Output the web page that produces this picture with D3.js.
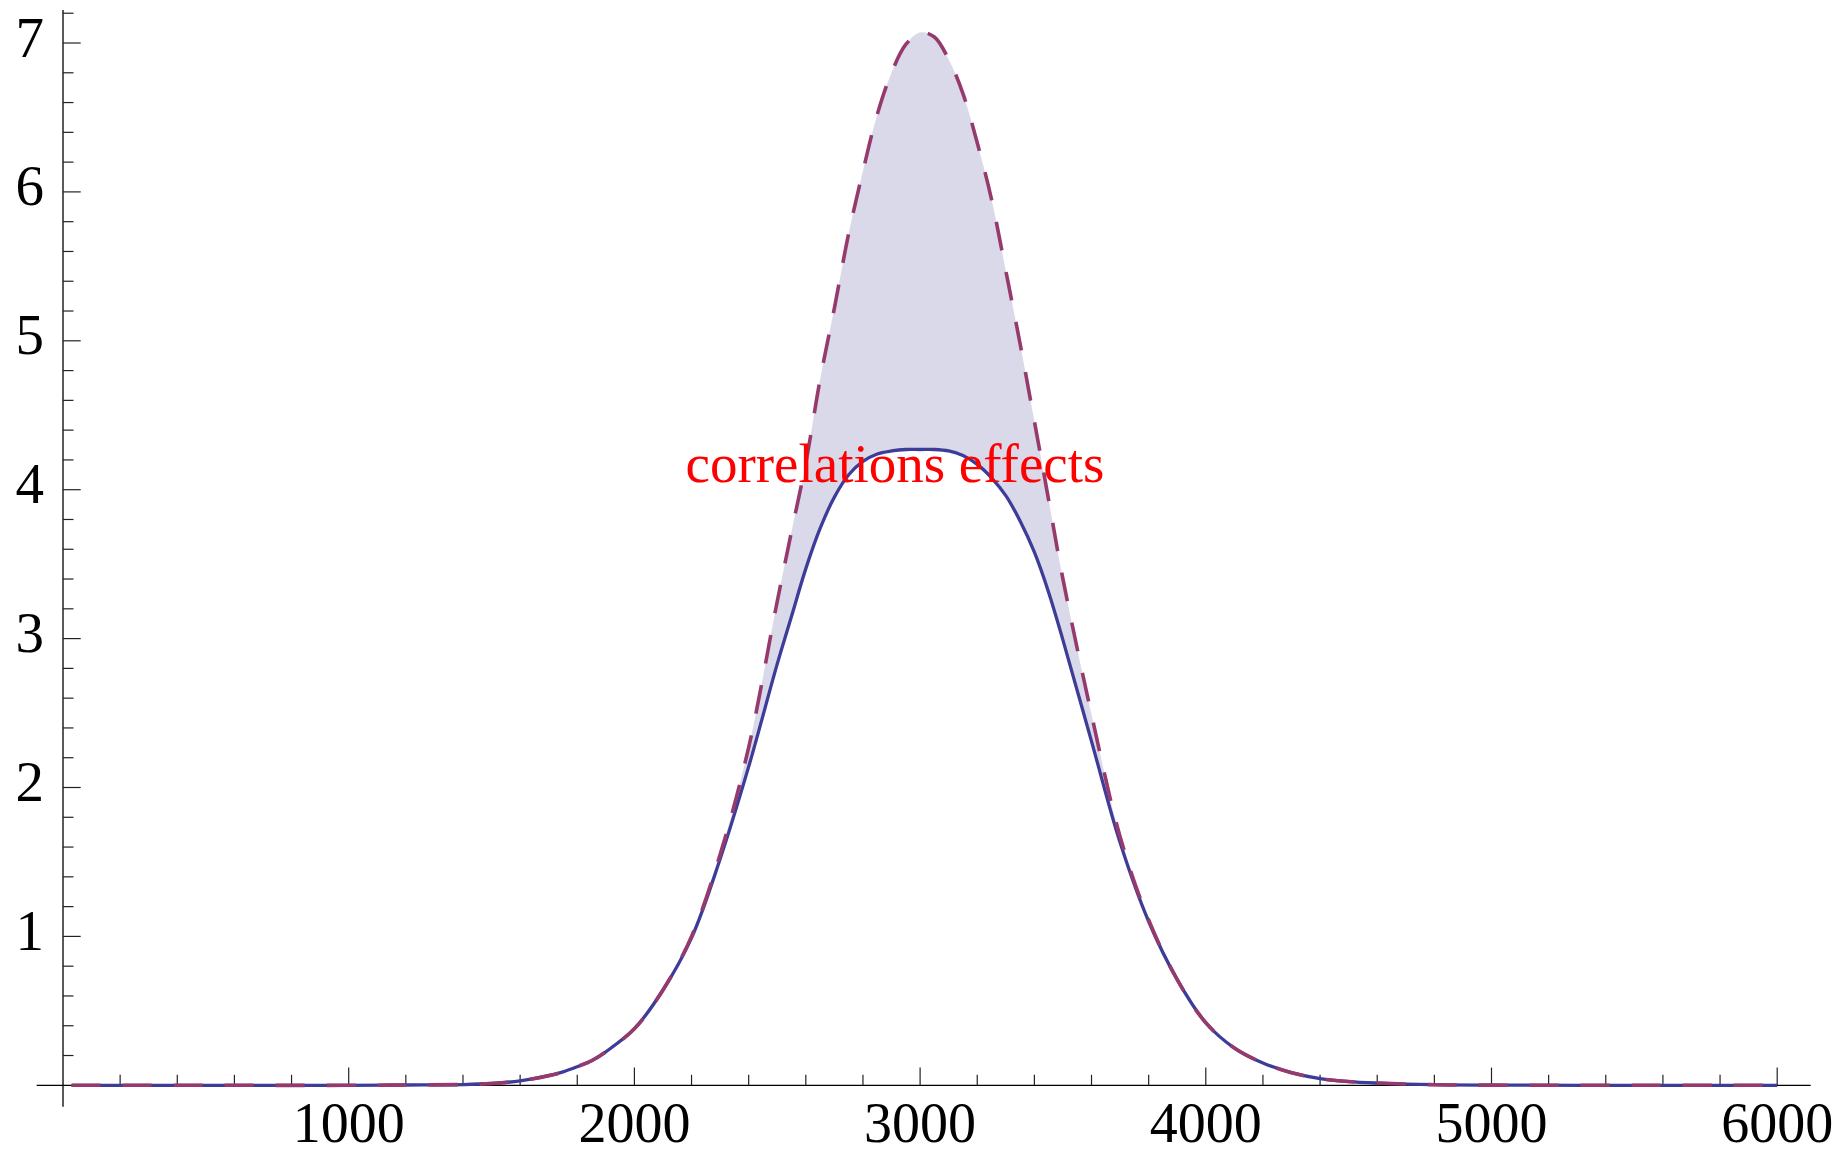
<!DOCTYPE html>
<html>
<head>
<meta charset="utf-8">
<script src="https://cdn.jsdelivr.net/npm/d3@7"></script>
<style>
  body { margin: 0; background: #fff; }
  svg { display: block; }
</style>
</head>
<body>
<div id="chart"></div>
<script>
// Values
const xs = [30, 500, 1000, 1200, 1400, 1500, 1600, 1700, 1750, 1800,
            1850, 1900, 2000, 2100, 2200, 2300, 2400, 2500, 2550, 2600, 2650,
            2700, 2750, 2800, 2850, 2900, 2950, 3000, 3050, 3100, 3150,
            3200, 3250, 3300, 3350, 3400, 3450, 3500, 3600, 3700, 3800, 3900,
            4000, 4100, 4200, 4300, 4400, 4500, 4600, 4800, 5000, 5500, 6000];

// dashed curve (no correlations)
const uncorrelated = [0, 0, 0, 0.002, 0.005, 0.012, 0.03, 0.065, 0.09, 0.125,
                      0.165, 0.225, 0.38, 0.64, 1.00, 1.55, 2.27, 3.25, 3.72, 4.18, 4.74,
                      5.22, 5.72, 6.14, 6.52, 6.80, 6.99, 7.07, 7.04, 6.89, 6.66,
                      6.33, 5.95, 5.47, 4.98, 4.46, 3.93, 3.40, 2.49, 1.67, 1.11, 0.71,
                      0.42, 0.25, 0.15, 0.085, 0.045, 0.025, 0.015, 0.004, 0.001, 0, 0];

// solid curve (with correlations)
const correlated = [0, 0, 0, 0.002, 0.005, 0.012, 0.03, 0.065, 0.09, 0.125,
                    0.165, 0.225, 0.38, 0.64, 0.99, 1.52, 2.14, 2.83, 3.15, 3.47, 3.74,
                    3.95, 4.10, 4.19, 4.24, 4.26, 4.27, 4.27, 4.27, 4.26, 4.23,
                    4.17, 4.08, 3.96, 3.79, 3.58, 3.31, 2.99, 2.31, 1.63, 1.10, 0.71,
                    0.42, 0.25, 0.15, 0.085, 0.045, 0.025, 0.015, 0.004, 0.001, 0, 0];

const xTickLabels = [1000, 2000, 3000, 4000, 5000, 6000];
const yTickLabels = [1, 2, 3, 4, 5, 6, 7];

const label = { text: "correlations effects", x: 2912, y: 4.05 };

const width = 1844, height = 1155;

const x = d3.scaleLinear().domain([0, 6000]).range([63, 1777.2]);
const y = d3.scaleLinear().domain([0, 7]).range([1085.3, 43]);

const svg = d3.select("#chart")
    .append("svg")
    .attr("width", width)
    .attr("height", height)
    .style("background", "#fff");

const rows = xs.map((d, i) => ({ x: d, lo: correlated[i], hi: uncorrelated[i] }));

// filling between the two curves
const area = d3.area()
    .x(d => x(d.x))
    .y0(d => y(d.lo))
    .y1(d => y(d.hi))
    .curve(d3.curveCatmullRom);

svg.append("path")
    .datum(rows)
    .attr("d", area)
    .style("fill", "#d9d9ea")
    .style("stroke", "none");

// axes, Mathematica style: crossing at origin, ticks pointing inward
const axisColor = "#000";
svg.append("line")
    .attr("x1", 36.7).attr("x2", 1810.7)
    .attr("y1", y(0)).attr("y2", y(0))
    .style("stroke", axisColor).style("stroke-width", 1.3);
svg.append("line")
    .attr("x1", x(0)).attr("x2", x(0))
    .attr("y1", 10).attr("y2", 1106.7)
    .style("stroke", axisColor).style("stroke-width", 1.3);

const xMinor = d3.range(200, 6001, 200);
svg.append("g").selectAll("line")
    .data(xMinor)
    .enter()
    .append("line")
    .attr("x1", d => x(d)).attr("x2", d => x(d))
    .attr("y1", y(0))
    .attr("y2", d => y(0) - (d % 1000 === 0 ? 17.7 : 10.5))
    .style("stroke", "#222").style("stroke-width", 1.2);

const yMinor = d3.range(1, 37).map(i => i * 0.2);
svg.append("g").selectAll("line")
    .data(yMinor)
    .enter()
    .append("line")
    .attr("y1", d => y(d)).attr("y2", d => y(d))
    .attr("x1", x(0))
    .attr("x2", d => x(0) + (Math.abs(d - Math.round(d)) < 1e-6 ? 17.7 : 10.5))
    .style("stroke", "#222").style("stroke-width", 1.2);

svg.append("g").selectAll("text")
    .data(xTickLabels)
    .enter()
    .append("text")
    .attr("x", d => x(d))
    .attr("y", 1142)
    .attr("text-anchor", "middle")
    .style("font-family", "'Liberation Serif', 'Times New Roman', serif")
    .style("font-size", "56px")
    .style("fill", "#000")
    .text(d => d);

svg.append("g").selectAll("text")
    .data(yTickLabels)
    .enter()
    .append("text")
    .attr("x", 44)
    .attr("y", d => y(d) + 13.5)
    .attr("text-anchor", "end")
    .style("font-family", "'Liberation Serif', 'Times New Roman', serif")
    .style("font-size", "57px")
    .style("fill", "#000")
    .text(d => d);

// the two curves
const curveLine = d3.line()
    .x((d, i) => x(xs[i]))
    .y(d => y(d))
    .curve(d3.curveCatmullRom);

svg.append("path")
    .datum(correlated)
    .attr("d", curveLine)
    .style("fill", "none")
    .style("stroke", "#3d3d99")
    .style("stroke-width", 3.3);

svg.append("path")
    .datum(uncorrelated)
    .attr("d", curveLine)
    .style("fill", "none")
    .style("stroke", "#963a6d")
    .style("stroke-width", 3.6)
    .style("stroke-dasharray", "29,22");

// annotation
svg.append("text")
    .attr("x", x(label.x))
    .attr("y", y(label.y))
    .attr("text-anchor", "middle")
    .style("font-family", "'Liberation Serif', 'Times New Roman', serif")
    .style("font-size", "55px")
    .style("fill", "#ff0000")
    .text(label.text);
</script>
</body>
</html>
